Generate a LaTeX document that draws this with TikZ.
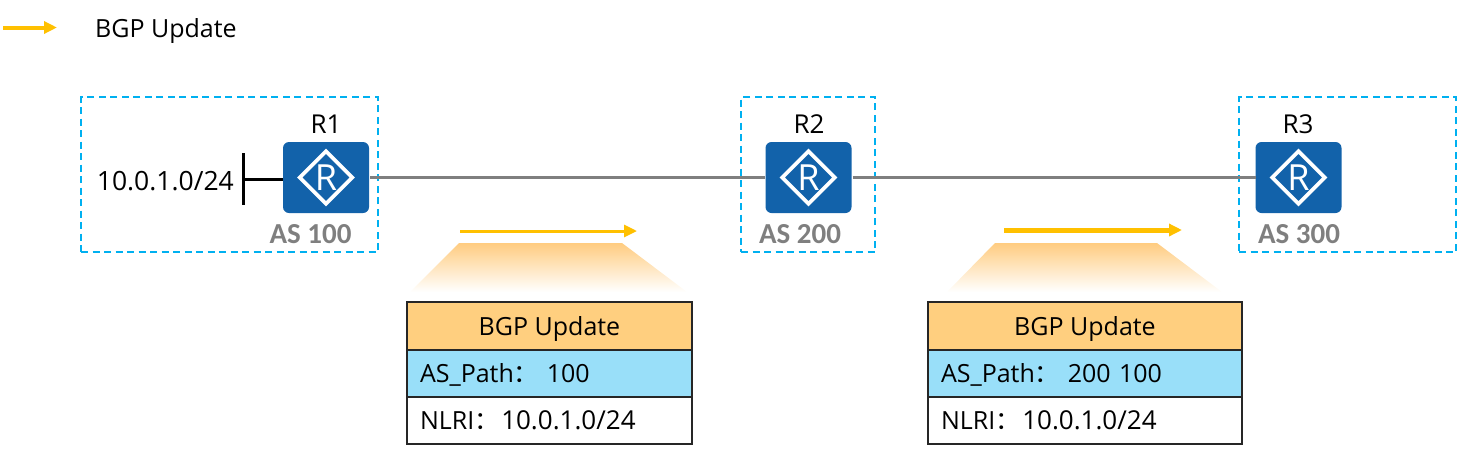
\documentclass[tikz,border=0pt]{standalone}
\usepackage{fontspec}
\setmainfont{Open Sans}
\newfontfamily\cjkfont{Noto Sans CJK SC}
\newfontfamily\asfont{Carlito}
\usetikzlibrary{arrows.meta,shapes.geometric}
\definecolor{cyanline}{HTML}{00B0F0}
\definecolor{routerblue}{HTML}{1262AA}
\definecolor{linegray}{HTML}{7F7F7F}
\definecolor{bgporange}{HTML}{FFC000}
\definecolor{headfill}{HTML}{FFCF7F}
\definecolor{pathfill}{HTML}{99DFF9}
\definecolor{fanfill}{HTML}{FFCC80}
\newcommand{\fz}[1]{\fontsize{#1}{#1}\selectfont}
\newcommand{\cc}[1]{\makebox[#1][l]{{\cjkfont ：}}}
\tikzset{
  x=1pt,y=-1pt,
  asbox/.style={draw=cyanline,line width=2pt,dash pattern=on 7pt off 4.5pt,outer sep=0pt,inner sep=0pt,anchor=north west},
  router/.style={fill=routerblue,rounded corners=6pt,minimum width=86pt,minimum height=71pt,inner sep=0pt,outer sep=0pt},
  rmark/.style={diamond,draw=white,line width=3.8pt,minimum width=54pt,minimum height=54pt,inner sep=0pt,text=white,font=\fz{36},aspect=1},
  rlabel/.style={font=\fz{26},text=black,inner sep=0pt},
  aslabel/.style={font=\fz{29}\asfont\bfseries,text=linegray,inner sep=0pt},
  link/.style={draw=linegray,line width=3pt},
  stub/.style={draw=black,line width=3pt},
  sendarrow/.style={draw=bgporange,-{Triangle[length=13pt,width=12pt]}},
  fan/.style={top color=fanfill,bottom color=white,draw=none},
  row/.style={draw=black!85,line width=2pt,inner sep=0pt,outer sep=0pt,anchor=north west,font=\fz{25},text height=25pt,text depth=7pt,align=left},
  plain/.style={font=\fz{25},text=black,inner sep=0pt}
}
\begin{document}
\begin{tikzpicture}
\useasboundingbox (0,0) rectangle (1457,456);
% legend
\coordinate (la) at (3,27.5);
\coordinate (lb) at (57,27.5);
\draw[sendarrow,line width=4pt] (la) -- (lb);
\node[plain,anchor=west] (legend) at (95,31) {BGP Update};
% AS boxes
\node[asbox,minimum width=297pt,minimum height=155pt] (as1) at (81,97) {};
\node[asbox,minimum width=134pt,minimum height=155pt] (as2) at (741,97) {};
\node[asbox,minimum width=217pt,minimum height=155pt] (as3) at (1239,97) {};
% routers
\node[router] (r1) at (326,177.5) {};
\node[router] (r2) at (808.5,177.5) {};
\node[router] (r3) at (1298.5,177.5) {};
\node[rmark] (m1) at (r1.center) {R};
\node[rmark] (m2) at (r2.center) {R};
\node[rmark] (m3) at (r3.center) {R};
\node[rlabel] (t1) at (326,124) {R1};
\node[rlabel] (t2) at (809,124) {R2};
\node[rlabel] (t3) at (1298,124) {R3};
\node[aslabel] (a1) at (310.5,234) {AS 100};
\node[aslabel] (a2) at (800,234) {AS 200};
\node[aslabel] (a3) at (1299,234) {AS 300};
% links
\draw[link] ([xshift=1pt]r1.east) -- ([xshift=-1pt]r2.west);
\draw[link] ([xshift=1pt]r2.east) -- (r3.west);
% network stub
\coordinate (s1) at (243,153);
\coordinate (s2) at (243,205);
\coordinate (s3) at (243,179);
\draw[stub] (s1) -- (s2);
\draw[stub] (s3) -- (s3 -| r1.west);
\node[plain,anchor=east,font=\fz{26.5}] (net) at (234,181) {10.0.1.0/24};
% send arrows
\coordinate (a1s) at (460,231);
\coordinate (a1e) at (637,231);
\coordinate (a2s) at (1004,230);
\coordinate (a2e) at (1182,230);
\draw[sendarrow,line width=3pt] (a1s) -- (a1e);
\draw[sendarrow,line width=5pt] (a2s) -- (a2e);
% fans
\shade[fan] (459,243) -- (622,243) -- (687,292) -- (410,292) -- cycle;
\shade[fan] (995,243) -- (1157,243) -- (1222,292) -- (947,292) -- cycle;
% table 1
\node[row,fill=headfill,minimum width=285pt,minimum height=48pt,align=center] (h1) at (407,302) {BGP Update};
\node[row,fill=pathfill,minimum width=285pt,minimum height=47pt,text width=285pt] (p1) at (407,350) {\hspace*{13pt}AS\_Path\cc{33pt}100};
\node[row,fill=white,minimum width=285pt,minimum height=47pt,text width=285pt] (n1) at (407,397) {\hspace*{13pt}NLRI\cc{27pt}{\fz{26}10.0.1.0/24}};
% table 2
\node[row,fill=headfill,minimum width=314pt,minimum height=48pt,align=center] (h2) at (928,302) {BGP Update};
\node[row,fill=pathfill,minimum width=314pt,minimum height=47pt,text width=314pt] (p2) at (928,350) {\hspace*{13pt}AS\_Path\cc{33pt}200 100};
\node[row,fill=white,minimum width=314pt,minimum height=47pt,text width=314pt] (n2) at (928,397) {\hspace*{13pt}NLRI\cc{27pt}{\fz{26}10.0.1.0/24}};
\end{tikzpicture}
\end{document}
